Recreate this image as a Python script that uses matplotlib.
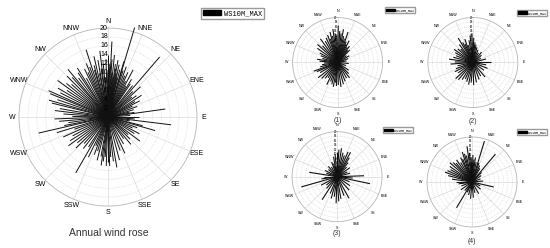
import numpy as np
import matplotlib.pyplot as plt
from matplotlib.patches import Patch

plt.rcParams['font.family'] = ['Liberation Sans', 'DejaVu Sans']

compass = ['N', 'NNE', 'NE', 'ENE', 'E', 'ESE', 'SE', 'SSE',
           'S', 'SSW', 'SW', 'WSW', 'W', 'WNW', 'NW', 'NNW']
ring_ticks = list(range(2, 21, 2))

# annual rose: direction (deg from N, clockwise) and max wind speed
annual_dir = [345, 347, 349, 350, 352, 353, 355, 356, 358, 359, 0, 1, 2, 3, 4, 5, 6, 7, 8, 9,
              10, 11, 12, 13, 14, 16.6, 16, 18, 20, 22, 24, 26, 28, 30, 32, 34,
              40.7, 38, 44, 47, 50, 53, 57, 60, 63, 66, 70, 74, 77,
              80, 82, 86, 90, 94, 97, 100, 104, 106, 110, 114, 118, 122,
              127, 131, 135, 140, 144, 150, 155, 160, 165, 170,
              173, 176, 178, 180, 182, 184, 186, 188, 190,
              194, 197, 200, 203, 206, 210, 213, 218, 222, 226, 230, 234,
              238, 242, 246, 250, 253, 257, 259, 262, 265, 268, 271, 274, 277, 280,
              284, 286, 289, 292, 294, 297, 300, 303, 306, 309, 312, 315, 318, 320, 323, 326,
              328, 331, 334, 336, 338, 340, 342, 344]
annual_spd = [12, 14, 10, 13, 11, 15, 12, 9, 13, 10, 14, 11, 12, 17, 13, 10, 14, 9, 12, 11,
              13, 10, 12, 9, 11, 21, 13, 11, 12, 10, 11, 9, 12, 8, 10, 9,
              17.8, 9, 8, 10, 7, 8, 9, 7, 8, 6, 7, 6, 5,
              6, 13, 5, 7, 6, 14.3, 5, 8, 11, 7, 6, 8, 7,
              9, 6, 7, 8, 6, 7, 9, 8, 10, 11.5,
              10, 9, 11, 10, 11, 9, 10, 11, 9,
              10, 8, 9, 7, 10, 14.5, 8, 9, 8, 10, 9, 11,
              10, 9, 11, 8, 12, 16, 10, 9, 11, 12, 8, 10, 12, 11,
              13, 13.8, 12, 14, 14.6, 12, 13, 11, 14, 12, 11, 13, 12, 14, 11, 12,
              13, 10, 12, 11, 13, 12, 15.9, 11]

s1_dir = [340, 343, 346, 349, 352, 355, 358, 1, 4, 7, 10, 13, 16, 19, 22, 25, 28, 32, 36, 40,
          44, 52, 60, 70, 80, 95, 110, 125, 135, 142, 150, 158, 165, 172, 178, 183, 186, 190,
          195, 200, 206, 212, 218, 225, 232, 240, 246, 250, 256, 262, 268, 274, 279, 285,
          292, 298, 305, 312, 318, 324, 330, 335]
s1_spd = [13, 11, 14, 12, 15, 13, 12, 16.4, 14, 13, 15, 12, 11, 14.3, 10, 9, 11, 8, 9, 7,
          7.7, 5, 6, 5, 4, 5, 4, 6, 7, 8.7, 8, 9, 10, 11, 10, 10.5, 9, 11,
          10, 9, 11, 8, 9, 10, 11, 9, 10, 11.3, 8, 7, 6, 8, 9.2, 7,
          8, 9, 11, 12, 10, 13, 11, 12]

s2_dir = [329, 333, 337, 341, 345, 350, 354, 358, 2, 6, 10, 15, 22, 30, 40, 50, 62, 75, 90,
          100, 112, 125, 140, 150, 160, 170, 178, 185, 191, 198, 205, 212, 220, 227, 235,
          243, 250, 258, 266, 272, 278, 285, 292, 299, 305, 312, 318, 323]
s2_spd = [12.7, 10, 9, 11, 8, 10, 12, 13, 11, 9, 8, 7, 6, 5, 6, 5, 4, 6, 8,
          6, 7, 6, 8.4, 7, 8, 9, 10, 9, 10, 9, 8, 9, 10, 10.5, 8,
          9, 8, 7, 9.9, 8, 10.7, 9, 8, 9, 10.2, 9, 8, 10]

s3_dir = [340, 345, 350, 355, 0, 4, 9, 14, 19, 24, 29, 33, 38, 45, 55, 65, 75, 88, 95, 102,
          112, 125, 138, 151, 160, 170, 176, 182, 188, 195, 202, 213, 222, 232, 242, 254,
          262, 270, 279, 288, 298, 310, 320, 330]
s3_spd = [7, 6, 9, 10, 11, 12, 12.8, 11, 10, 12, 12.4, 10, 8, 6, 7, 5, 6, 12, 7, 15,
          6, 7, 8, 11, 9, 10, 11, 11.8, 9, 10, 8, 12.2, 7, 6, 8, 16.5,
          7, 6, 12.5, 5, 6, 5, 6, 5]

s4_dir = [335, 338, 342, 345, 348, 352, 355, 358, 2, 5, 8, 12, 16.9, 20, 25, 30, 40, 45, 55,
          70, 85, 103, 115, 130, 150, 165, 175, 185, 195, 205, 211, 220, 235, 250, 262,
          270, 278, 285, 290, 295, 300, 305, 311, 316, 320, 325, 330]
s4_spd = [12, 11, 14, 13, 12, 16, 13, 11, 12, 10, 11, 9, 19, 9, 8, 7, 16.2, 6, 5,
          4, 5, 9.9, 4, 5, 6, 5, 7, 7.5, 6, 5, 13.4, 5, 6, 5, 6,
          7, 9, 11, 12.8, 12, 11, 12, 13.1, 12, 11, 12, 10]


def draw_rose(ax, dirs, spds, lab_size, ring_size, pad, lw):
    ax.set_theta_zero_location('N')
    ax.set_theta_direction(-1)
    ax.vlines(np.deg2rad(dirs), 0, spds, colors='#111111', linewidth=lw,
              clip_on=False, zorder=3)
    ax.set_ylim(0, 20)
    ax.set_yticks(ring_ticks[:-1])
    ax.set_yticklabels([])
    ax.set_xticks(np.deg2rad(np.arange(0, 360, 22.5)))
    ax.set_xticklabels(compass, fontsize=lab_size)
    ax.tick_params(axis='x', pad=pad)
    ax.xaxis.grid(True, color='#dadada', linewidth=0.5)
    ax.yaxis.grid(True, color='#d0d0d0', linewidth=0.5, linestyle=':')
    ax.spines['polar'].set_color('#b5b5b5')
    ax.spines['polar'].set_linewidth(0.6)
    for r in ring_ticks:
        ax.text(0, r, str(r), ha='right', va='center', fontsize=ring_size, zorder=4)


def add_legend(fig, x, y, size):
    fig.legend(handles=[Patch(facecolor='black', edgecolor='black')], labels=['WS10M_MAX'],
               loc='upper left', bbox_to_anchor=(x, y),
               prop={'family': 'Liberation Mono', 'size': size},
               frameon=True, fancybox=False, edgecolor='#999999', framealpha=1,
               borderpad=0.3, handlelength=2.6, handleheight=0.8, handletextpad=0.4,
               borderaxespad=0)


fig = plt.figure(figsize=(5.5, 2.48), dpi=100)

ax0 = fig.add_axes([0.0345, 0.169, 0.3236, 0.718], projection='polar')
draw_rose(ax0, annual_dir, annual_spd, 5, 5, -5.5, 0.7)
fig.text(0.197, 0.06, 'Annual wind rose', ha='center', va='center', fontsize=7.5, color='#333333')
add_legend(fig, 0.365, 0.968, 5)

small = [(s1_dir, s1_spd, 0.532, 0.5665, '(1)', 0.614, 0.516, 0.700, 0.972),
         (s2_dir, s2_spd, 0.778, 0.5665, '(2)', 0.860, 0.512, 0.940, 0.960),
         (s3_dir, s3_spd, 0.531, 0.106, '(3)', 0.613, 0.058, 0.697, 0.488),
         (s4_dir, s4_spd, 0.7764, 0.0847, '(4)', 0.858, 0.028, 0.940, 0.480)]
for d, s, left, bottom, cap, cx, cy, lx, ly in small:
    ax = fig.add_axes([left, bottom, 0.1636, 0.363], projection='polar')
    draw_rose(ax, d, s, 2.6, 2.2, -6, 0.8)
    fig.text(cx, cy, cap, ha='center', va='center', fontsize=5, color='#333333')
    add_legend(fig, lx, ly, 2.4)

fig.savefig('out.png', dpi=100)
